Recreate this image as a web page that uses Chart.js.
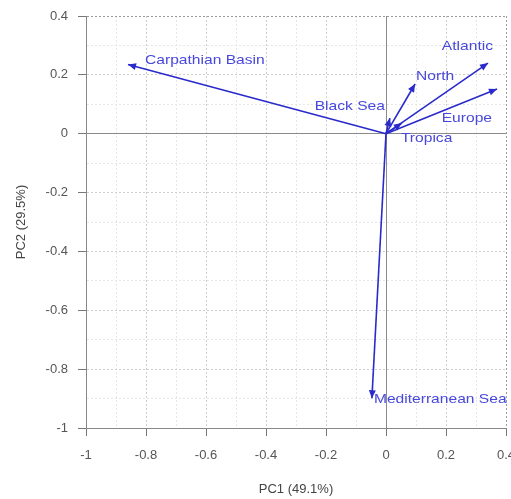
<!DOCTYPE html>
<html lang="en">
<head>
  <meta charset="UTF-8">
  <title>PCA biplot</title>
  <script src="https://cdn.jsdelivr.net/npm/chart.js"></script>
  <style>
    body { margin: 0; background: #fff; }
    #wrap { width: 511px; height: 499px; }
  </style>
</head>
<body>
  <div id="wrap"><canvas id="pcaChart" width="511" height="499"></canvas></div>

  <script>
    // loadings (arrow heads), arrows start at the origin
    const variables = ['Carpathian Basin', 'Atlantic', 'Europe', 'North', 'Black Sea', 'Tropica', 'Mediterranean Sea'];
    const pc1 = [-0.86, 0.34, 0.37, 0.097, 0.013, 0.053, -0.047];
    const pc2 = [0.235, 0.24, 0.152, 0.169, 0.053, 0.036, -0.899];
    const xTicks = [-1, -0.8, -0.6, -0.4, -0.2, 0, 0.2, 0.4];
    const yTicks = [-1, -0.8, -0.6, -0.4, -0.2, 0, 0.2, 0.4];
    const xTitle = 'PC1 (49.1%)';
    const yTitle = 'PC2 (29.5%)';

    // label placement relative to arrow head (style only)
    const labelStyle = {
      'Carpathian Basin':  { dx: 17, dy: -4, align: 'left' },
      'Atlantic':          { dx: 5, dy: -17, align: 'right' },
      'Europe':            { dx: -5, dy: 29, align: 'right' },
      'North':             { dx: 1, dy: -8, align: 'left' },
      'Black Sea':         { dx: -5, dy: -12, align: 'right' },
      'Tropica':           { dx: -1, dy: 15, align: 'left' },
      'Mediterranean Sea': { dx: 2, dy: 1, align: 'left' }
    };

    const arrowColor = '#2a2acc';
    const textColor = '#4848da';
    const fontFamily = '"Liberation Sans", Arial, sans-serif';

    const datasets = variables.map((name, i) => ({
      label: name,
      data: [{ x: 0, y: 0 }, { x: pc1[i], y: pc2[i] }],
      showLine: true,
      borderColor: arrowColor,
      borderWidth: 1.6,
      pointRadius: 0
    }));

    const isMajor = v => Math.abs(Math.round(v * 10)) % 2 === 0;

    const arrowPlugin = {
      id: 'arrows',
      afterDatasetsDraw(chart) {
        const ctx = chart.ctx;
        const xs = chart.scales.x, ys = chart.scales.y;
        const ox = xs.getPixelForValue(0), oy = ys.getPixelForValue(0);
        ctx.save();
        variables.forEach((name, i) => {
          const hx = xs.getPixelForValue(pc1[i]);
          const hy = ys.getPixelForValue(pc2[i]);
          const a = Math.atan2(hy - oy, hx - ox);
          const len = 8, w = 3.5;
          ctx.fillStyle = arrowColor;
          ctx.beginPath();
          ctx.moveTo(hx, hy);
          ctx.lineTo(hx - len * Math.cos(a) + w * Math.sin(a), hy - len * Math.sin(a) - w * Math.cos(a));
          ctx.lineTo(hx - len * Math.cos(a) - w * Math.sin(a), hy - len * Math.sin(a) + w * Math.cos(a));
          ctx.closePath();
          ctx.fill();

          // labels in the original look slightly wide, stretch them a bit
          const s = labelStyle[name];
          ctx.save();
          ctx.translate(hx + s.dx, hy + s.dy);
          ctx.scale(1.2, 1);
          ctx.fillStyle = textColor;
          ctx.font = '13px ' + fontFamily;
          ctx.textAlign = s.align;
          ctx.textBaseline = 'middle';
          ctx.fillText(name, 0, 0);
          ctx.restore();
        });
        ctx.restore();
      }
    };

    const tickFont = { family: fontFamily, size: 13 };

    function axis(min, max, ticksList) {
      return {
        type: 'linear',
        min: min,
        max: max,
        afterBuildTicks(scale) {
          const t = [];
          for (let k = Math.round(min * 10); k <= Math.round(max * 10); k++) t.push({ value: k / 10 });
          scale.ticks = t;
        },
        ticks: {
          color: '#555',
          font: tickFont,
          autoSkip: false,
          maxRotation: 0,
          callback: v => {
            const r = Math.round(v * 10) / 10;
            return ticksList.some(t => Math.abs(t - r) < 1e-9) ? String(r) : '';
          }
        },
        grid: {
          color: c => {
            const v = c.tick ? c.tick.value : 0;
            if (Math.abs(v) < 1e-9) return '#8a8a8a';
            if (Math.abs(v - max) < 1e-9) return '#9a9a9a';
            return isMajor(v) ? '#cfcfcf' : '#e6e6e6';
          },
          lineWidth: 1,
          tickLength: 8,
          tickColor: c => (c.tick && isMajor(c.tick.value)) ? '#777' : 'rgba(0,0,0,0)'
        },
        border: {
          display: true,
          color: '#888',
          width: 1,
          dash: c => (c.tick && Math.abs(c.tick.value) < 1e-9) ? [] : [2, 2]
        }
      };
    }

    const xAxis = axis(-1, 0.4, xTicks);
    xAxis.position = 'bottom';
    xAxis.ticks.padding = 12;
    xAxis.title = { display: true, text: xTitle, color: '#444', font: tickFont, padding: { top: 0, bottom: 2 } };
    xAxis.afterFit = s => { s.height = 71; s.paddingLeft = 0; s.paddingRight = 0; };

    const yAxis = axis(-1, 0.4, yTicks);
    yAxis.position = 'left';
    yAxis.ticks.padding = 10;
    yAxis.title = { display: true, text: yTitle, color: '#444', font: tickFont, padding: { top: 14, bottom: 0 } };
    yAxis.afterFit = s => { s.width = 86; s.paddingTop = 0; s.paddingBottom = 0; };

    new Chart(document.getElementById('pcaChart').getContext('2d'), {
      type: 'scatter',
      data: { datasets: datasets },
      options: {
        responsive: false,
        animation: false,
        layout: { autoPadding: false, padding: { top: 16, right: 5, left: 0, bottom: 0 } },
        plugins: { legend: { display: false }, tooltip: { enabled: false } },
        scales: { x: xAxis, y: yAxis }
      },
      plugins: [arrowPlugin]
    });
  </script>
</body>
</html>
